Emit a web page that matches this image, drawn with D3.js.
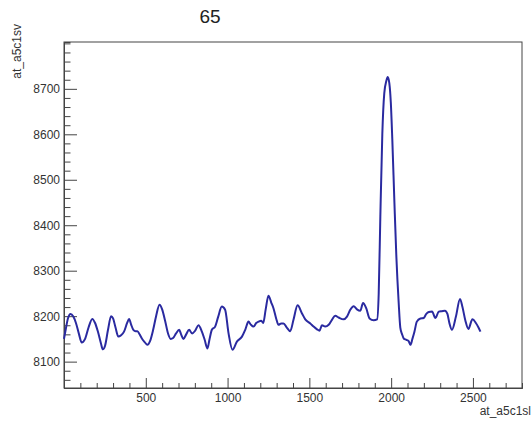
<!DOCTYPE html>
<html><head><meta charset="utf-8">
<script src="https://cdn.jsdelivr.net/npm/d3@7"></script>
<style>
html,body{margin:0;padding:0;background:#fff;}
svg text{font-family:"Liberation Sans",Arial,Helvetica,sans-serif;}
</style></head>
<body>
<svg id="c" width="532" height="424"></svg>
<script>
const title = "65";
const xTitle = "at_a5c1sl";
const yTitle = "at_a5c1sv";
const xDomain = [0, 2800];
const yDomain = [8042, 8803];
const xMajorTicks = [500, 1000, 1500, 2000, 2500];
const yMajorTicks = [8100, 8200, 8300, 8400, 8500, 8600, 8700];
const xs = [0,9,24,40,57,73,92,108,129,150,173,190,208,226,237,251,269,288,300,315,332,349,367,386,398,410,424,438,449,462,476,493,510,526,545,563,584,600,618,636,652,667,685,704,716,730,747,765,783,802,822,843,860,877,890,904,924,942,965,985,1006,1030,1057,1088,1108,1128,1141,1159,1175,1189,1206,1218,1233,1250,1267,1281,1297,1311,1328,1342,1362,1383,1403,1428,1455,1475,1506,1526,1547,1562,1577,1597,1618,1638,1658,1679,1709,1730,1750,1771,1791,1812,1828,1848,1868,1893,1914,1924,1934,1946,1958,1971,1979,1989,1998,2007,2020,2032,2046,2056,2067,2077,2093,2107,2118,2130,2142,2157,2179,2199,2215,2230,2250,2271,2291,2310,2329,2344,2356,2372,2396,2421,2436,2454,2472,2497,2518,2534,2546];
const ys = [8150,8168,8195,8205,8199,8185,8160,8142,8150,8175,8194,8185,8165,8140,8127,8135,8170,8200,8195,8175,8155,8158,8166,8185,8194,8182,8170,8167,8167,8160,8151,8143,8137,8145,8170,8200,8225,8215,8190,8162,8150,8152,8162,8170,8160,8150,8160,8170,8162,8168,8180,8166,8148,8129,8150,8170,8177,8198,8221,8214,8162,8126,8144,8155,8170,8188,8182,8177,8185,8188,8190,8185,8215,8245,8230,8217,8195,8181,8184,8184,8175,8167,8192,8224,8206,8193,8184,8177,8171,8168,8180,8177,8181,8192,8201,8197,8193,8199,8214,8222,8215,8212,8229,8217,8195,8191,8193,8250,8420,8600,8690,8718,8726,8712,8670,8590,8450,8330,8230,8175,8160,8151,8148,8145,8137,8150,8165,8188,8195,8196,8205,8209,8210,8196,8210,8211,8212,8205,8185,8170,8199,8238,8220,8190,8172,8193,8185,8175,8166];

const m = {left:64, top:42, right:522, bottom:388};
const svg = d3.select("#c");
const x = d3.scaleLinear().domain(xDomain).range([m.left, m.right]);
const y = d3.scaleLinear().domain(yDomain).range([m.bottom, m.top]);

// frame
svg.append("rect").attr("x", m.left).attr("y", m.top)
  .attr("width", m.right - m.left).attr("height", m.bottom - m.top)
  .attr("fill", "none").attr("stroke", "#444").attr("stroke-width", 1);

const xMinor = d3.range(100, 2800, 100).filter(v => !xMajorTicks.includes(v));
const yMinor = d3.range(8060, 8803, 20).filter(v => !yMajorTicks.includes(v));

function styleAxis(g){
  g.select(".domain").attr("stroke", "#444");
  g.selectAll(".tick line").attr("stroke", "#444");
  g.selectAll(".tick text").attr("fill", "#333").attr("font-size", 12);
}

svg.append("g").attr("transform", `translate(0,${m.bottom})`)
  .call(d3.axisBottom(x).tickValues(xMinor).tickSize(-5).tickFormat(""))
  .call(styleAxis);
svg.append("g").attr("transform", `translate(0,${m.bottom})`)
  .call(d3.axisBottom(x).tickValues(xMajorTicks).tickSizeInner(-10).tickSizeOuter(0).tickPadding(5).tickFormat(d3.format("d")))
  .call(styleAxis);
svg.append("g").attr("transform", `translate(${m.left},0)`)
  .call(d3.axisLeft(y).tickValues(yMinor).tickSize(-6.5).tickFormat(""))
  .call(styleAxis);
svg.append("g").attr("transform", `translate(${m.left},0)`)
  .call(d3.axisLeft(y).tickValues(yMajorTicks).tickSizeInner(-13).tickSizeOuter(0).tickPadding(4).tickFormat(d3.format("d")))
  .call(styleAxis);

// data line
const pts = xs.map((v, i) => [v, ys[i]]);
const line = d3.line().x(d => x(d[0])).y(d => y(d[1])).curve(d3.curveMonotoneX);
svg.append("path").datum(pts).attr("d", line)
  .attr("fill", "none").attr("stroke", "#2a2aa0").attr("stroke-width", 2)
  .attr("stroke-linejoin", "round");

// titles
svg.append("text").attr("x", 210).attr("y", 23).attr("text-anchor", "middle")
  .attr("font-size", 19).attr("fill", "#222").text(title);
svg.append("text").attr("x", 531).attr("y", 415).attr("text-anchor", "end")
  .attr("font-size", 12).attr("fill", "#333").text(xTitle);
svg.append("text").attr("transform", "translate(21,24) rotate(-90)").attr("text-anchor", "end")
  .attr("font-size", 12).attr("fill", "#333").text(yTitle);
</script>
</body></html>
